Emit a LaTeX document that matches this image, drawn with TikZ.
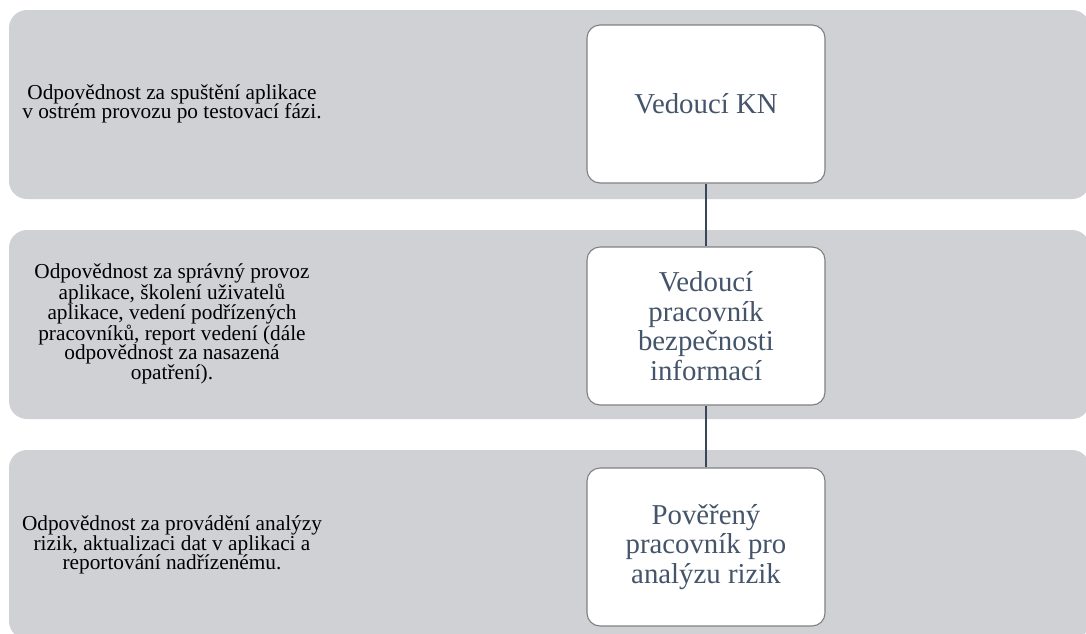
\documentclass[tikz,border=0pt]{standalone}
\usepackage{fontspec}
\setmainfont{Liberation Serif}
\definecolor{bandgray}{HTML}{D0D1D5}
\definecolor{slate}{HTML}{44546A}
\definecolor{linkslate}{HTML}{3A4759}
\definecolor{boxedge}{HTML}{808080}
\begin{document}
\begin{tikzpicture}[x=1pt,y=-1pt,
  band/.style={fill=bandgray, rounded corners=18pt},
  role/.style={draw=boxedge, line width=1.1pt, fill=white, rounded corners=13pt,
    minimum width=238pt, minimum height=158pt, align=center, text=slate,
    font=\fontsize{28.8}{29.5}\selectfont, inner sep=0pt},
  duty/.style={align=center, text=black, font=\fontsize{21.3}{19.6}\selectfont, inner sep=0pt},
  link/.style={draw=linkslate, line width=2.6pt}]
\useasboundingbox (0,0) rectangle (1086,633);
\begin{scope}
  \clip (0,0) rectangle (1086,633);
  % background bands, one per level
  \fill[band] (9,10) rectangle (1090,199);
  \fill[band] (9,230) rectangle (1090,419);
  \fill[band] (9,450) rectangle (1090,639);
\end{scope}

% responsibilities
\node[duty] (d1) at (172,104) {Odpovědnost za spuštění aplikace\\v ostrém provozu po testovací fázi.};
\node[duty] (d2) at (172,324) {Odpovědnost za správný provoz\\aplikace, školení uživatelů\\aplikace, vedení podřízených\\pracovníků, report vedení (dále\\odpovědnost za nasazená\\opatření).};
\node[duty] (d3) at (172,545) {Odpovědnost za provádění analýzy\\rizik, aktualizaci dat v aplikaci a\\reportování nadřízenému.};

% roles
\node[role] (kn) at (706,104) {Vedoucí KN};
\node[role] (vpbi) at (706,326) {Vedoucí\\pracovník\\bezpečnosti\\informací};
\node[role] (ppar) at (706,547) {Pověřený\\pracovník pro\\analýzu rizik};

% hierarchy links
\draw[link] (kn.south) -- (vpbi.north);
\draw[link] (vpbi.south) -- (ppar.north);
\end{tikzpicture}
\end{document}
